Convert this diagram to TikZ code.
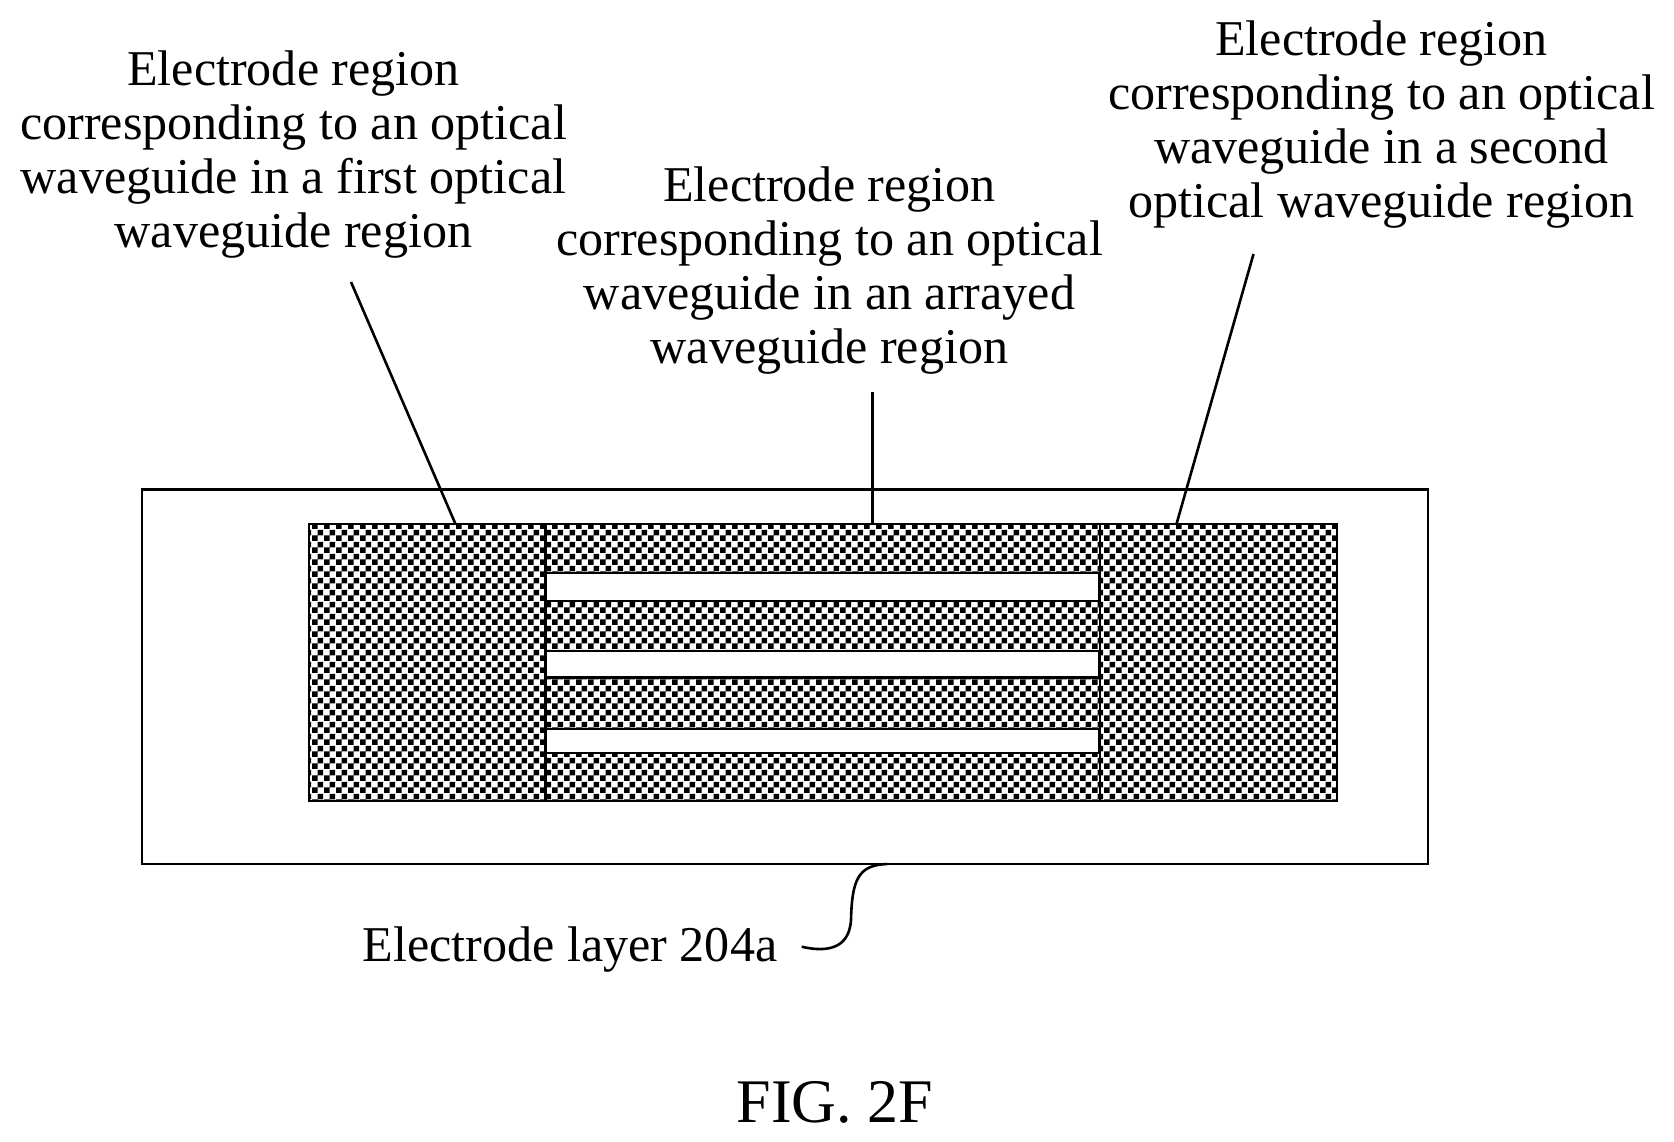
\documentclass[tikz,border=0pt]{standalone}
\usepackage{fontspec}
\setmainfont{Liberation Serif}
\usetikzlibrary{positioning,patterns}

\pgfdeclarepatternformonly{checkcell}{\pgfpointorigin}{\pgfqpoint{12pt}{12pt}}{\pgfqpoint{12pt}{12pt}}{
    \pgfpathrectangle{\pgfpointorigin}{\pgfqpoint{6pt}{6pt}}
    \pgfpathrectangle{\pgfqpoint{6pt}{6pt}}{\pgfqpoint{6pt}{6pt}}
    \pgfusepath{fill}
}

\begin{document}
\begin{tikzpicture}[x=1pt, y=-1pt, line width=2.6pt, outer sep=0pt,
    callout/.style = {align=center, inner sep=0pt, font=\fontsize{50.1}{54}\selectfont},
    region/.style = {draw, pattern=checkcell, minimum height=277pt, inner sep=0pt},
    slot/.style = {draw, fill=white, inner sep=0pt, minimum width=554pt, anchor=north west}]
    \useasboundingbox (0,0) rectangle (1674,1141);

    \node[draw, inner sep=0pt, minimum width=1286pt, minimum height=374.5pt, anchor=north west] (layer) at (142,489.5) {};

    \node[region, minimum width=236.7pt, anchor=north west] (first) at (309,524) {};
    \node[region, minimum width=554.3pt] (arrayed) [right=0pt of first] {};
    \node[region, minimum width=237pt] (second) [right=0pt of arrayed] {};

    \node[slot, minimum height=28pt] (slot1) at (545.7,573) {};
    \node[slot, minimum height=26.5pt] (slot2) at (545.7,651) {};
    \node[slot, minimum height=24pt] (slot3) at (545.7,729) {};

    \node[callout] (t1) at (293.5,154.8) {Electrode region\\corresponding to an optical\\waveguide in a first optical\\waveguide region};
    \node[callout] (t2) at (829.5,270.5) {Electrode region\\corresponding to an optical\\waveguide in an arrayed\\waveguide region};
    \node[callout] (t3) at (1381.5,124.9) {Electrode region\\corresponding to an optical\\waveguide in a second\\optical waveguide region};
    \node[callout] (t4) at (570,950) {Electrode layer 204a};
    \node[inner sep=0pt, font=\fontsize{62}{70}\selectfont] (fig) at (835,1102) {FIG. 2F};

    \coordinate (c1) at (351,282);
    \coordinate (c2) at (872.5,391.5);
    \coordinate (c3) at (1253.5,254);
    \coordinate (c4) at (801.7,946.7);

    \draw (c1) -- (first.north -| 455.5,524);
    \draw (c2) -- (arrayed.north -| c2);
    \draw (c3) -- (second.north -| 1176.5,524);
    \draw (c4) .. controls (820,951) and (849,953) .. (851,920) .. controls (852,880) and (858,865) .. (887,864);
\end{tikzpicture}
\end{document}
